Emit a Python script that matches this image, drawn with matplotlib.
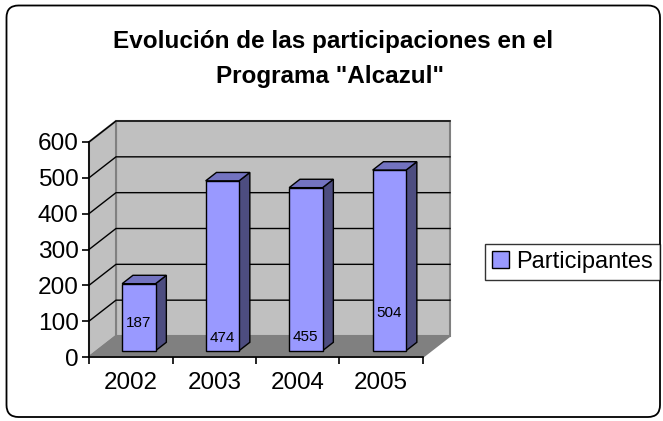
import matplotlib
matplotlib.use('Agg')
import matplotlib.pyplot as plt
from matplotlib.patches import Polygon, FancyBboxPatch, Patch

# ---- data ----
years = ['2002', '2003', '2004', '2005']
participantes = [187, 474, 455, 504]
y_ticks = [0, 100, 200, 300, 400, 500, 600]
series_name = 'Participantes'
title_lines = ['Evolución de las participaciones en el', 'Programa "Alcazul"']

# ---- style ----
plt.rcParams['font.family'] = ['Liberation Sans', 'DejaVu Sans']
W, H = 663, 421
fig = plt.figure(figsize=(W / 100, H / 100), dpi=100)

# background / border axes (pixel coordinates)
bg = fig.add_axes([0, 0, 1, 1])
bg.set_xlim(0, W)
bg.set_ylim(H, 0)
bg.axis('off')
r = 12
x0, y0, x1, y1 = 6.5, 5.5, 660, 417
bg.add_patch(FancyBboxPatch((x0 + r, y0 + r), (x1 - x0) - 2 * r, (y1 - y0) - 2 * r,
                            boxstyle=f'round,pad={r}', facecolor='white',
                            edgecolor='black', linewidth=1.3))

# title
fig.text(333 / W, (H - 48) / H, title_lines[0], ha='center', va='baseline',
         fontsize=17.5, fontweight='bold')
fig.text(330 / W, (H - 83) / H, title_lines[1], ha='center', va='baseline',
         fontsize=17.5, fontweight='bold')

# main axes = front plane of the 3D box
px_l, px_r, px_b, px_t = 89, 423, 357, 142
ax = fig.add_axes([px_l / W, (H - px_b) / H, (px_r - px_l) / W, (px_b - px_t) / H])
n = len(years)
ymax = y_ticks[-1]
ax.set_xlim(0, n)
ax.set_ylim(0, ymax)
ax.set_facecolor('none')

DX = 27 * n / (px_r - px_l)
DY = 21 * ymax / (px_b - px_t)

wall_c = '#C0C0C0'
wall_e = '#808080'
floor_c = '#808080'

# back wall
ax.add_patch(Polygon([(DX, DY), (n + DX, DY), (n + DX, ymax + DY), (DX, ymax + DY)],
                     closed=True, facecolor=wall_c, edgecolor=wall_e, linewidth=1.5,
                     clip_on=False, zorder=1))
# left wall
ax.add_patch(Polygon([(0, 0), (DX, DY), (DX, ymax + DY), (0, ymax)],
                     closed=True, facecolor=wall_c, edgecolor=wall_e, linewidth=1.5,
                     clip_on=False, zorder=1))
# floor
ax.add_patch(Polygon([(0, 0), (n, 0), (n + DX, DY), (DX, DY)],
                     closed=True, facecolor=floor_c, edgecolor=wall_e, linewidth=1.2,
                     clip_on=False, zorder=1.1))

# gridlines on walls
for v in y_ticks[1:]:
    ax.plot([0, DX, n + DX], [v, v + DY, v + DY], color='black', linewidth=1,
            clip_on=False, zorder=1.5)

# bars
bar_w = 0.4
f0, f1 = 0.3, 0.7
front_c = '#9999FF'
top_c = '#7373C0'
side_c = '#4D4D80'
label_pos = [77, 35, 38, 105]
for i, v in enumerate(participantes):
    xl = i + 0.5 - bar_w / 2 + f0 * DX
    xr = i + 0.5 + bar_w / 2 + f0 * DX
    yb = f0 * DY
    yt = v + f0 * DY
    ddx = (f1 - f0) * DX
    ddy = (f1 - f0) * DY
    kw = dict(closed=True, edgecolor='black', linewidth=1, clip_on=False, zorder=3)
    ax.add_patch(Polygon([(xr, yb), (xr + ddx, yb + ddy), (xr + ddx, yt + ddy), (xr, yt)],
                         facecolor=side_c, **kw))
    ax.add_patch(Polygon([(xl, yt), (xr, yt), (xr + ddx, yt + ddy), (xl + ddx, yt + ddy)],
                         facecolor=top_c, **kw))
    ax.add_patch(Polygon([(xl, yb), (xr, yb), (xr, yt), (xl, yt)],
                         facecolor=front_c, **kw))
    ax.text(i + 0.5 + f0 * DX, label_pos[i] + f0 * DY, str(v), ha='center', va='center',
            fontsize=11, zorder=4)

# axes spines & ticks
for s in ['top', 'right']:
    ax.spines[s].set_visible(False)
for s in ['left', 'bottom']:
    ax.spines[s].set_color('black')
    ax.spines[s].set_linewidth(1.2)
    ax.spines[s].set_zorder(2.5)
ax.set_yticks(y_ticks)
ax.set_yticklabels([str(t) for t in y_ticks])
ax.set_xticks(range(n + 1))
ax.set_xticklabels([])
ax.set_xticks([i + 0.5 for i in range(n)], minor=True)
ax.set_xticklabels(years, minor=True)
ax.tick_params(axis='y', direction='out', length=5, width=1.2, pad=2.5, labelsize=17.6)
ax.tick_params(axis='x', which='major', direction='out', length=5, width=1.2)
ax.tick_params(axis='x', which='minor', length=0, pad=11, labelsize=17.4)

# legend
leg = fig.legend(handles=[Patch(facecolor=front_c, edgecolor='black', linewidth=1)],
                 labels=[series_name], loc='center left',
                 bbox_to_anchor=(485 / W, (H - 262) / H), fontsize=17,
                 frameon=True, fancybox=False, handlelength=0.7, handleheight=0.7,
                 handletextpad=0.3, borderpad=0.3, borderaxespad=0)
leg.get_frame().set_edgecolor('black')
leg.get_frame().set_linewidth(1)

fig.savefig('out.png', dpi=100)
